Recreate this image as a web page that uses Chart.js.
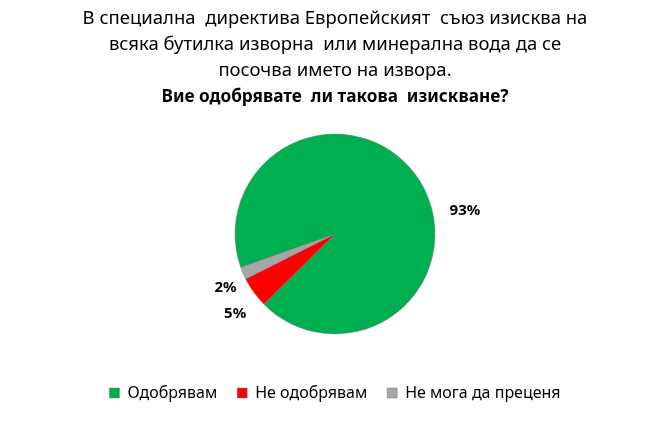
<!DOCTYPE html>
<html>
<head>
<meta charset="utf-8">
<script src="https://cdn.jsdelivr.net/npm/chart.js@4.4.1/dist/chart.umd.min.js"></script>
<style>
  html, body { margin: 0; padding: 0; background: #fff; }
  #wrap { width: 654px; height: 427px; }
</style>
</head>
<body>
<div id="wrap"><canvas id="canvas" width="654" height="427"></canvas></div>
<script>
const labels = ['Одобрявам', 'Не одобрявам', 'Не мога да преценя']
const values = [93, 5, 2]
const valueLabels = ['93%', '5%', '2%']
const colors = ['#00B050', '#FF0000', '#A6A6A6']

const titleLines = [
    'В специална  директива Европейският  съюз изисква на',
    'всяка бутилка изворна  или минерална вода да се',
    'посочва името на извора.'
]
const subtitleLine = 'Вие одобрявате  ли такова  изискване?'

// draw the percent labels outside each slice (Excel "best fit"-like)
const outsideLabels = {
    id: 'outsideLabels',
    afterDatasetsDraw(chart, args, opts) {
        const ctx = chart.ctx
        const meta = chart.getDatasetMeta(0)
        ctx.save()
        ctx.font = opts.font
        ctx.fillStyle = '#000'
        ctx.textAlign = 'center'
        ctx.textBaseline = 'middle'
        meta.data.forEach((arc, i) => {
            const p = arc.getProps(['x', 'y', 'startAngle', 'endAngle', 'outerRadius'], true)
            const a = (p.startAngle + p.endAngle) / 2 + (opts.shift[i] || 0) * Math.PI / 180
            const r = p.outerRadius + (opts.gap[i] || 20)
            ctx.fillText(valueLabels[i], p.x + Math.cos(a) * r, p.y + Math.sin(a) * r)
        })
        ctx.restore()
    }
}

const data = {
    labels: labels,
    datasets: [{
        data: values,
        backgroundColor: colors,
        borderColor: 'rgba(120,120,120,0.5)',
        borderWidth: 1,
    }],
}

const config = {
    type: 'pie',
    data: data,
    options: {
        responsive: false,
        animation: false,
        rotation: 250.5,
        radius: 100,
        layout: { padding: { left: 16, right: 0, top: 0, bottom: 16 } },
        plugins: {
            title: {
                display: true,
                text: titleLines,
                color: '#000',
                font: { family: 'Noto Sans', size: 18.5, weight: 'normal', lineHeight: 26 / 18.5 },
                padding: { top: 6, bottom: 0 },
            },
            subtitle: {
                display: true,
                text: subtitleLine,
                color: '#000',
                font: { family: 'Noto Sans', size: 17.2, weight: 'bold', lineHeight: 26 / 17.2 },
                padding: { top: 0, bottom: -7 },
            },
            legend: {
                position: 'bottom',
                labels: {
                    color: '#000',
                    font: { family: 'Noto Sans', size: 16 },
                    boxWidth: 10,
                    boxHeight: 10,
                    padding: 20,
                },
            },
            tooltip: { enabled: false },
            outsideLabels: {
                font: 'bold 15px "Noto Sans"',
                shift: [22, -3, -3],
                gap: [32, 28, 22],
            },
        },
    },
    plugins: [outsideLabels],
}

const canvas = document.getElementById('canvas')
const chart = new Chart(canvas, config)
</script>
</body>
</html>
